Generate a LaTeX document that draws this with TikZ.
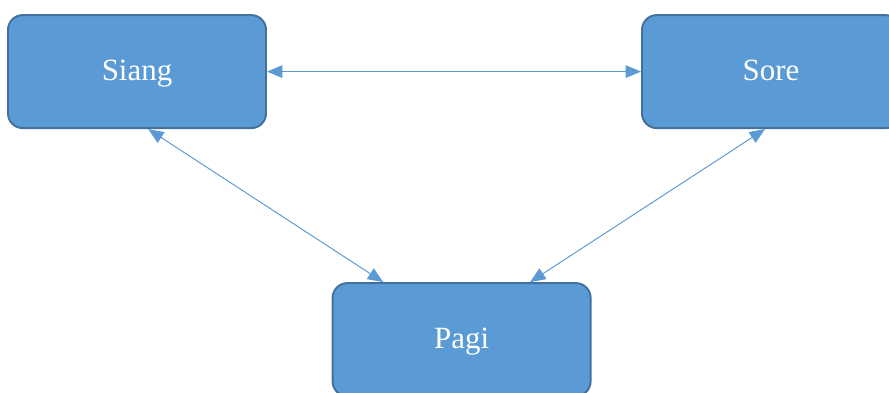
\documentclass[tikz,border=0pt]{standalone}
\usepackage{fontspec}
\setmainfont{Liberation Serif}
\usepackage{tikz}
\definecolor{boxfill}{RGB}{91, 155, 213}
\definecolor{boxedge}{RGB}{65, 113, 156}
\definecolor{linkblue}{RGB}{91, 155, 213}
\usetikzlibrary{arrows.meta, positioning, calc}

\begin{document}
\begin{tikzpicture}[
    timebox/.style={draw=boxedge, line width=1.4pt, rounded corners=10.5pt,
                    fill=boxfill, minimum width=6.45cm, minimum height=2.825cm,
                    inner sep=0pt, text height=0.52cm, text depth=0.1cm,
                    text=white, font=\fontsize{22}{26}\selectfont},
    link/.style={linkblue, line width=0.7pt,
                 {Triangle[length=11pt,width=9pt]}-{Triangle[length=11pt,width=9pt]}}
]
    % Canvas
    \clip (0,0) rectangle (22.225,-9.8);
    \useasboundingbox (0,0) rectangle (22.225,-9.8);

    % Boxes
    \node[timebox] (siang) at (3.425,-1.79) {Siang};
    \node[timebox] (sore) at (19.275,-1.79) {Sore};
    \node[timebox] (pagi) at (11.54,-8.49) {Pagi};

    % Links between the boxes
    \draw[link] (siang.east) -- (sore.west);
    \draw[link] ([xshift=0.28cm]siang.south) -- ([xshift=-1.96cm]pagi.north);
    \draw[link] ([xshift=-0.15cm]sore.south) -- ([xshift=1.71cm]pagi.north);
\end{tikzpicture}
\end{document}
